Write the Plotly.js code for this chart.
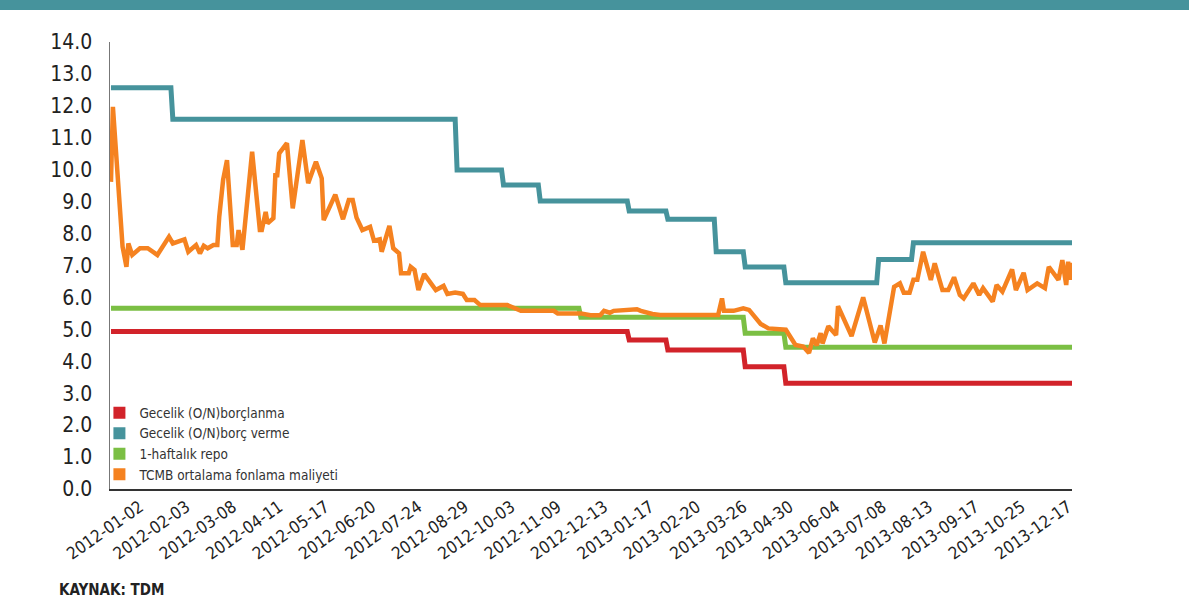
<!DOCTYPE html>
<html>
<head>
<meta charset="utf-8">
<script src="https://cdn.plot.ly/plotly-3.0.1.min.js"></script>
<style>
html,body{margin:0;padding:0;background:#fff;}
#chart{width:1189px;height:609px;}
</style>
</head>
<body>
<div id="chart"></div>
<script>
// ---- data ----
const tickLabels = ['2012-01-02','2012-02-03','2012-03-08','2012-04-11','2012-05-17','2012-06-20','2012-07-24','2012-08-29','2012-10-03','2012-11-09','2012-12-13','2013-01-17','2013-02-20','2013-03-26','2013-04-30','2013-06-04','2013-07-08','2013-08-13','2013-09-17','2013-10-25','2013-12-17'];
const tickFirstDay = 15;   // observation index of the first labelled day
const tickStep = 24;       // observations between labels
const lastDay = 497;       // index of the last observation

const seriesNames = ['Gecelik (O/N)borçlanma','Gecelik (O/N)borç verme','1-haftalık repo','TCMB ortalama fonlama maliyeti'];

// step series: observation index where a new level starts, and the level
const redDays  = [0, 268, 288, 328, 349];
const redVals  = [4.93, 4.67, 4.35, 3.83, 3.31];
const tealDays = [0, 32, 179, 203, 222, 268, 288, 313, 328, 349, 397, 415];
const tealVals = [12.57, 11.58, 9.99, 9.52, 9.02, 8.71, 8.45, 7.43, 6.95, 6.46, 7.19, 7.71];
const greenDays = [0, 243, 328, 349];
const greenVals = [5.66, 5.38, 4.88, 4.44];

// average funding cost (vertices)
const orangeDays = [0,1,6,7,8,9,11,15,19,24,30,32,38,40,44,46,48,50,53,55,56,58,60,63,65,66,68,73,77,78,80,81,84,85,86,87,91,94,99,102,106,109,110,116,120,123,125,127,130,134,136,139,140,144,146,149,150,154,155,157,159,162,168,172,174,178,182,184,188,191,205,212,229,231,243,248,253,255,258,260,272,274,280,284,314,316,317,322,327,330,336,340,349,354,358,361,363,365,367,368,371,375,376,383,389,395,398,400,405,408,410,413,415,417,420,424,426,430,433,436,439,441,446,449,451,456,458,461,466,468,472,474,479,483,485,490,492,494,495,496,497];
const orangeVals = [9.62,11.97,7.59,7.25,6.96,7.69,7.33,7.54,7.54,7.33,7.90,7.69,7.82,7.43,7.64,7.38,7.62,7.54,7.64,7.64,8.53,9.68,10.30,7.64,7.64,8.11,7.49,10.56,8.11,8.11,8.68,8.32,8.48,9.83,9.83,10.51,10.83,8.79,10.93,9.58,10.25,9.73,8.42,9.22,8.45,9.05,9.05,8.50,8.11,8.21,7.78,7.82,7.43,8.24,7.54,7.38,6.76,6.76,6.96,6.86,6.23,6.73,6.23,6.36,6.11,6.15,6.11,5.92,5.92,5.76,5.76,5.58,5.58,5.50,5.50,5.44,5.44,5.58,5.52,5.58,5.63,5.58,5.48,5.45,5.45,5.97,5.58,5.58,5.66,5.61,5.17,5.03,4.99,4.51,4.46,4.26,4.72,4.50,4.88,4.56,5.10,4.82,5.73,4.79,6.00,4.59,5.12,4.56,6.33,6.44,6.15,6.15,6.55,6.55,7.43,6.55,7.07,6.23,6.23,6.63,6.08,5.97,6.44,6.08,6.29,5.87,6.39,6.18,6.88,6.23,6.77,6.23,6.44,6.29,6.96,6.55,7.17,6.39,7.12,6.55,7.09];

// ---- styling ----
const colors = ['#d2232a', '#46939c', '#7bbf44', '#f58220'];
const FONT = '"DejaVu Sans Condensed", "Liberation Sans Narrow", "Roboto", sans-serif';

function stepSeries(days, vals, end) {
  const x = [], y = [];
  for (let k = 0; k < days.length; k++) {
    const segEnd = (k + 1 < days.length) ? days[k + 1] - 1 : end;
    x.push(days[k], segEnd);
    y.push(vals[k], vals[k]);
  }
  return {x, y};
}

const red = stepSeries(redDays, redVals, lastDay);
const teal = stepSeries(tealDays, tealVals, lastDay);
const green = stepSeries(greenDays, greenVals, lastDay);

const lineW = 5;
const traces = [
  {x: red.x, y: red.y, mode: 'lines', line: {color: colors[0], width: lineW}, showlegend: false, hoverinfo: 'y', name: seriesNames[0]},
  {x: teal.x, y: teal.y, mode: 'lines', line: {color: colors[1], width: lineW}, showlegend: false, hoverinfo: 'y', name: seriesNames[1]},
  {x: green.x, y: green.y, mode: 'lines', line: {color: colors[2], width: lineW}, showlegend: false, hoverinfo: 'y', name: seriesNames[2]},
  {x: orangeDays, y: orangeVals, mode: 'lines', line: {color: colors[3], width: 4.5}, showlegend: false, hoverinfo: 'y', name: seriesNames[3]}
];
// legend entries drawn as coloured squares
seriesNames.forEach((n, i) => {
  traces.push({x: [null], y: [null], mode: 'markers', name: n,
    marker: {symbol: 'square', size: 12, color: colors[i]}, showlegend: true, hoverinfo: 'skip'});
});

const tickVals = tickLabels.map((_, k) => tickFirstDay + k * tickStep);

const layout = {
  width: 1189, height: 609,
  margin: {l: 110, r: 117, t: 42, b: 120, pad: 0},
  paper_bgcolor: '#fff', plot_bgcolor: '#fff',
  font: {family: FONT, color: '#222'},
  showlegend: true,
  legend: {
    x: -0.011, xanchor: 'left', y: 0.205, yanchor: 'top',
    bgcolor: 'rgba(0,0,0,0)', borderwidth: 0,
    font: {family: FONT, size: 13.5, color: '#333'},
    itemwidth: 30, tracegroupgap: 0
  },
  xaxis: {
    range: [-0.5, lastDay],
    tickmode: 'array', tickvals: tickVals, ticktext: tickLabels,
    tickangle: -35, tickfont: {family: FONT, size: 17, color: '#222'},
    showgrid: false, zeroline: false,
    showline: true, linecolor: '#333', linewidth: 1.5,
    ticks: '', fixedrange: true
  },
  yaxis: {
    range: [0, 14], dtick: 1, tick0: 0, tickformat: '.1f',
    tickfont: {family: FONT, size: 21, color: '#222'},
    showgrid: false, zeroline: false,
    showline: true, linecolor: '#777', linewidth: 1.5,
    ticks: '', ticklabelstandoff: 12, fixedrange: true
  },
  shapes: [{
    type: 'rect', xref: 'paper', yref: 'paper',
    x0: -110 / 962, x1: 1079 / 962,
    y0: (489 - 10) / 447, y1: (489 + 2) / 447 + 0.02,
    fillcolor: '#46939c', line: {width: 0}, layer: 'below'
  }],
  annotations: [{
    text: '<b>KAYNAK: TDM</b>', xref: 'paper', yref: 'paper',
    x: (57 - 110) / 962, xanchor: 'left',
    y: (489 - 589.5) / 447, yanchor: 'middle',
    showarrow: false, font: {family: FONT, size: 15, color: '#222'}
  }]
};

Plotly.newPlot('chart', traces, layout, {displayModeBar: false, staticPlot: true});
</script>
</body>
</html>
